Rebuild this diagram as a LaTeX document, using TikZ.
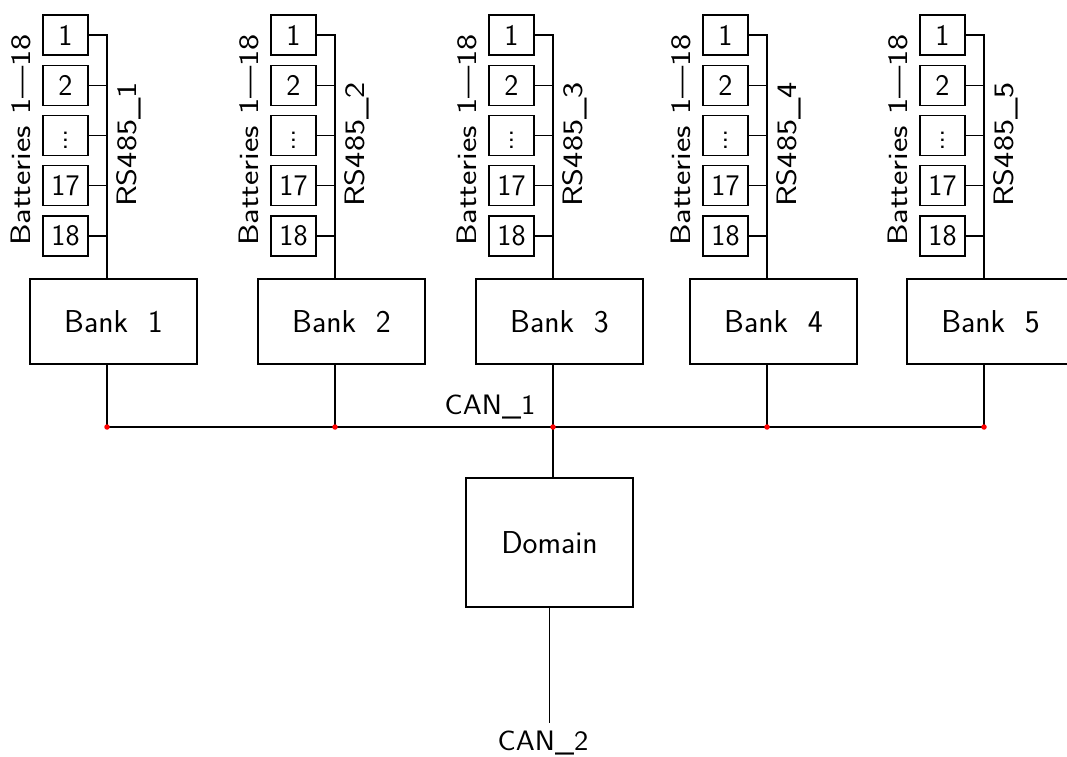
\documentclass[tikz,border=0pt]{standalone}
\usepackage{tikz}

\tikzset{
  cell/.style={draw, line width=0.7pt, minimum width=0.900cm, minimum height=0.800cm, inner sep=0pt, font=\sffamily\fontsize{17}{17}\selectfont},
  bankbox/.style={draw, line width=0.7pt, minimum width=3.340cm, minimum height=1.700cm, font=\sffamily\fontsize{18}{18}\selectfont},
  lbl/.style={inner sep=0pt, rotate=90, xscale=1.22, font=\sffamily\fontsize{16}{16}\selectfont},
  buslbl/.style={inner sep=0pt, xscale=1.08, font=\sffamily\fontsize{16}{16}\selectfont},
  wire/.style={line width=0.7pt},
  joint/.style={fill=red}
}

\begin{document}
\begin{tikzpicture}
\useasboundingbox (0,0) rectangle (21.340,15.120);
\begin{scope}[shift={(2.140,0.000)}]
\node[cell] (bat1a) at (-0.830,14.420) {1};
\node[cell] (bat1b) at (-0.830,13.415) {2};
\node[cell] (bat1c) at (-0.830,12.410) {$\vdots$};
\node[cell] (bat1d) at (-0.830,11.405) {17};
\node[cell] (bat1e) at (-0.830,10.400) {18};
\node[bankbox] (bank1) at (0.130,8.690) {Bank~~1};
\node[lbl] (bats1) at (-1.720,12.320) {Batteries 1---18};
\node[lbl] (rs1) at (0.440,12.230) {RS485\_1};
\coordinate (rs1top) at (0.000,14.420);
\coordinate (can1j1) at (0.000,6.580);
\draw[wire] (bat1a.east) -- (rs1top) -- (rs1top |- bank1.north);
\draw[wire] (bat1b.east) -- (bat1b.east -| rs1top);
\draw[wire] (bat1c.east) -- (bat1c.east -| rs1top);
\draw[wire] (bat1d.east) -- (bat1d.east -| rs1top);
\draw[wire] (bat1e.east) -- (bat1e.east -| rs1top);
\draw[wire] (rs1top |- bank1.south) -- (can1j1);
\end{scope}
\begin{scope}[shift={(6.700,0.000)}]
\node[cell] (bat2a) at (-0.830,14.420) {1};
\node[cell] (bat2b) at (-0.830,13.415) {2};
\node[cell] (bat2c) at (-0.830,12.410) {$\vdots$};
\node[cell] (bat2d) at (-0.830,11.405) {17};
\node[cell] (bat2e) at (-0.830,10.400) {18};
\node[bankbox] (bank2) at (0.130,8.690) {Bank~~2};
\node[lbl] (bats2) at (-1.720,12.320) {Batteries 1---18};
\node[lbl] (rs2) at (0.440,12.230) {RS485\_2};
\coordinate (rs2top) at (0.000,14.420);
\coordinate (can1j2) at (0.000,6.580);
\draw[wire] (bat2a.east) -- (rs2top) -- (rs2top |- bank2.north);
\draw[wire] (bat2b.east) -- (bat2b.east -| rs2top);
\draw[wire] (bat2c.east) -- (bat2c.east -| rs2top);
\draw[wire] (bat2d.east) -- (bat2d.east -| rs2top);
\draw[wire] (bat2e.east) -- (bat2e.east -| rs2top);
\draw[wire] (rs2top |- bank2.south) -- (can1j2);
\end{scope}
\begin{scope}[shift={(11.060,0.000)}]
\node[cell] (bat3a) at (-0.830,14.420) {1};
\node[cell] (bat3b) at (-0.830,13.415) {2};
\node[cell] (bat3c) at (-0.830,12.410) {$\vdots$};
\node[cell] (bat3d) at (-0.830,11.405) {17};
\node[cell] (bat3e) at (-0.830,10.400) {18};
\node[bankbox] (bank3) at (0.130,8.690) {Bank~~3};
\node[lbl] (bats3) at (-1.720,12.320) {Batteries 1---18};
\node[lbl] (rs3) at (0.440,12.230) {RS485\_3};
\coordinate (rs3top) at (0.000,14.420);
\coordinate (can1j3) at (0.000,6.580);
\draw[wire] (bat3a.east) -- (rs3top) -- (rs3top |- bank3.north);
\draw[wire] (bat3b.east) -- (bat3b.east -| rs3top);
\draw[wire] (bat3c.east) -- (bat3c.east -| rs3top);
\draw[wire] (bat3d.east) -- (bat3d.east -| rs3top);
\draw[wire] (bat3e.east) -- (bat3e.east -| rs3top);
\draw[wire] (rs3top |- bank3.south) -- (can1j3);
\end{scope}
\begin{scope}[shift={(15.340,0.000)}]
\node[cell] (bat4a) at (-0.830,14.420) {1};
\node[cell] (bat4b) at (-0.830,13.415) {2};
\node[cell] (bat4c) at (-0.830,12.410) {$\vdots$};
\node[cell] (bat4d) at (-0.830,11.405) {17};
\node[cell] (bat4e) at (-0.830,10.400) {18};
\node[bankbox] (bank4) at (0.130,8.690) {Bank~~4};
\node[lbl] (bats4) at (-1.720,12.320) {Batteries 1---18};
\node[lbl] (rs4) at (0.440,12.230) {RS485\_4};
\coordinate (rs4top) at (0.000,14.420);
\coordinate (can1j4) at (0.000,6.580);
\draw[wire] (bat4a.east) -- (rs4top) -- (rs4top |- bank4.north);
\draw[wire] (bat4b.east) -- (bat4b.east -| rs4top);
\draw[wire] (bat4c.east) -- (bat4c.east -| rs4top);
\draw[wire] (bat4d.east) -- (bat4d.east -| rs4top);
\draw[wire] (bat4e.east) -- (bat4e.east -| rs4top);
\draw[wire] (rs4top |- bank4.south) -- (can1j4);
\end{scope}
\begin{scope}[shift={(19.680,0.000)}]
\node[cell] (bat5a) at (-0.830,14.420) {1};
\node[cell] (bat5b) at (-0.830,13.415) {2};
\node[cell] (bat5c) at (-0.830,12.410) {$\vdots$};
\node[cell] (bat5d) at (-0.830,11.405) {17};
\node[cell] (bat5e) at (-0.830,10.400) {18};
\node[bankbox] (bank5) at (0.130,8.690) {Bank~~5};
\node[lbl] (bats5) at (-1.720,12.320) {Batteries 1---18};
\node[lbl] (rs5) at (0.440,12.230) {RS485\_5};
\coordinate (rs5top) at (0.000,14.420);
\coordinate (can1j5) at (0.000,6.580);
\draw[wire] (bat5a.east) -- (rs5top) -- (rs5top |- bank5.north);
\draw[wire] (bat5b.east) -- (bat5b.east -| rs5top);
\draw[wire] (bat5c.east) -- (bat5c.east -| rs5top);
\draw[wire] (bat5d.east) -- (bat5d.east -| rs5top);
\draw[wire] (bat5e.east) -- (bat5e.east -| rs5top);
\draw[wire] (rs5top |- bank5.south) -- (can1j5);
\end{scope}
% CAN_1 bus and domain controller
\draw[wire] (can1j1) -- (can1j5);
\node[buslbl] (can1) at (9.800,6.980) {CAN\_1};
\node[bankbox, minimum height=2.580cm] (domain) at (10.990,4.270) {Domain};
\draw[wire] (can1j3) -- (can1j3 |- domain.north);
\node[buslbl, anchor=base] (can2) at (10.860,0.110) {CAN\_2};
\draw[wire, shorten >=0.160cm] (domain.south) -- (domain.south |- can2.north);
\fill[joint] (can1j1) circle (0.055);
\fill[joint] (can1j2) circle (0.055);
\fill[joint] (can1j3) circle (0.055);
\fill[joint] (can1j4) circle (0.055);
\fill[joint] (can1j5) circle (0.055);
\end{tikzpicture}
\end{document}
